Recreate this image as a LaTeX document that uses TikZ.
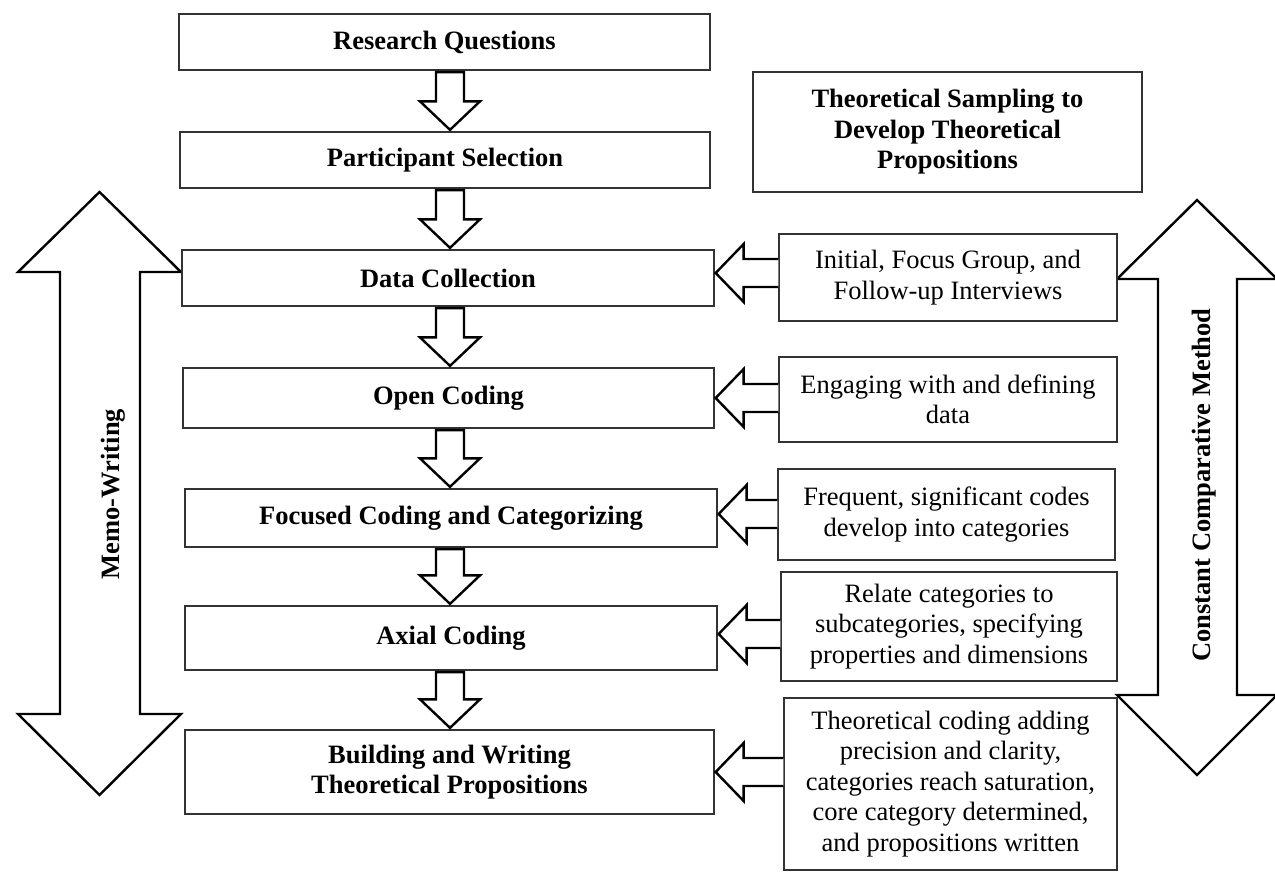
\documentclass[tikz,border=0pt]{standalone}
\usepackage{fontspec}
\setmainfont{Liberation Serif}
\usetikzlibrary{calc}
\newcommand\fs{\fontsize{26.5}{30.5}\selectfont}
\newcommand\vblock[2]{%
 \draw[barrow] let \p1=(#1.south), \p2=(#2.north) in
  (436pt,\y1-1.5pt) -- (464pt,\y1-1.5pt) -- (464pt,\y2+30pt) -- (480pt,\y2+30pt)
  -- (450pt,\y2+1.5pt) -- (420pt,\y2+30pt) -- (436pt,\y2+30pt) -- cycle;}
\newcommand\hblock[3]{%
 \draw[barrow] let \p1=(#1.west), \p2=(#2.east), \p3=(0,#3) in
  (\x1,\y3+14pt) -- (\x2+29pt,\y3+14pt) -- (\x2+29pt,\y3+29pt) -- (\x2+1pt,\y3)
  -- (\x2+29pt,\y3-29pt) -- (\x2+29pt,\y3-14pt) -- (\x1,\y3-14pt);}
\begin{document}
\begin{tikzpicture}[x=1pt,y=-1pt,
  box/.style={draw=black!80,line width=1.3pt,inner sep=0pt,align=center,font=\fs},
  bbox/.style={box,font=\fs\bfseries},
  barrow/.style={draw=black,line width=2.4pt,line join=miter,fill=white},
  bigarrow/.style={draw=black,line width=2.4pt,line join=miter,fill=white}]
\useasboundingbox (0,0) rectangle (1275,878);

% big double arrows
\draw[bigarrow] (99.5,192) -- (181,272) -- (140,272) -- (140,714) -- (181,714)
  -- (99.5,795) -- (18,714) -- (60,714) -- (60,272) -- (18,272) -- cycle;
\draw[bigarrow] (1197,200) -- (1277,279) -- (1237,279) -- (1237,695) -- (1277,695)
  -- (1197,775) -- (1117,695) -- (1158,695) -- (1158,279) -- (1117,279) -- cycle;
\node[rotate=90,font=\fs\bfseries,inner sep=0pt] (memo) at (113,494) {Memo-Writing};
\node[rotate=90,font=\fs\bfseries,inner sep=0pt] (ccm) at (1204,485) {Constant Comparative Method};

% main boxes
\node[bbox,minimum width=531,minimum height=56,fill=white] (rq) at (444.5,42) {Research Questions};
\node[bbox,minimum width=530,minimum height=56,fill=white] (ps) at (445,160) {Participant Selection};
\node[bbox,minimum width=532,minimum height=56,fill=white] (dc) at (448,278) {Data Collection};
\node[bbox,minimum width=531,minimum height=60,fill=white] (oc) at (448.5,398) {Open Coding};
\node[bbox,minimum width=532,minimum height=58,fill=white] (fc) at (451,518) {Focused Coding and Categorizing};
\node[bbox,minimum width=532,minimum height=64,fill=white] (ax) at (451,638) {Axial Coding};
\node[bbox,minimum width=529,minimum height=84,fill=white] (bw) at (449.5,772) {Building and Writing\\Theoretical Propositions};

% right boxes
\node[bbox,minimum width=389,minimum height=120] (ts) at (947.5,132) {Theoretical Sampling to\\Develop Theoretical\\Propositions};
\node[box,minimum width=338,minimum height=87,fill=white] (in) at (948,277.5) {Initial, Focus Group, and\\Follow-up Interviews};
\node[box,minimum width=338,minimum height=85] (en) at (948,399.5) {Engaging with and defining\\data};
\node[box,minimum width=337,minimum height=91] (fr) at (946.5,514.5) {Frequent, significant codes\\develop into categories};
\node[box,minimum width=336,minimum height=109] (re) at (949,626.5) {Relate categories to\\subcategories, specifying\\properties and dimensions};
\node[box,minimum width=333,minimum height=172,fill=white] (th) at (950.5,784) {Theoretical coding adding\\precision and clarity,\\categories reach saturation,\\core category determined,\\and propositions written};

% vertical block arrows
\vblock{rq}{ps}
\vblock{ps}{dc}
\vblock{dc}{oc}
\vblock{oc}{fc}
\vblock{fc}{ax}
\vblock{ax}{bw}

% horizontal block arrows
\hblock{in}{dc}{273}
\hblock{en}{oc}{398}
\hblock{fr}{fc}{514}
\hblock{re}{ax}{634}
\hblock{th}{bw}{772}
\end{tikzpicture}
\end{document}
